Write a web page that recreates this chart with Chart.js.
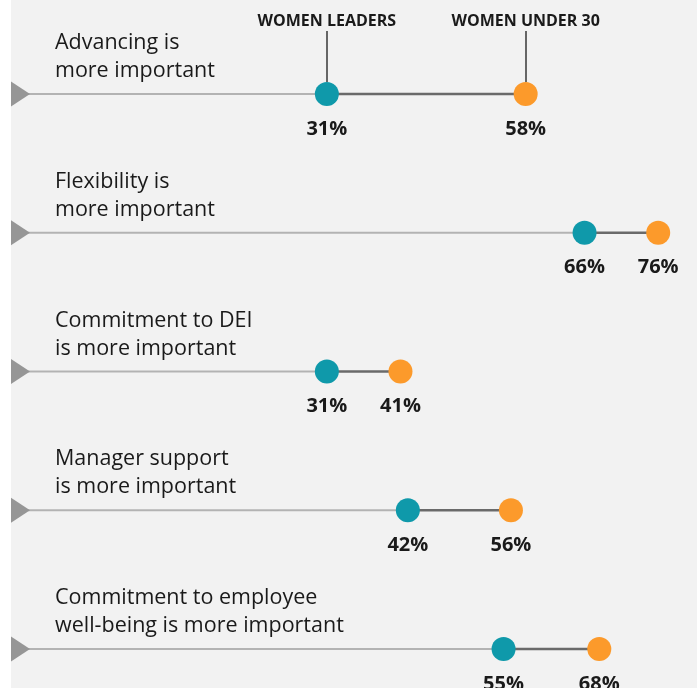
<!DOCTYPE html>
<html>
<head>
<meta charset="utf-8">
<script src="https://cdn.jsdelivr.net/npm/chart.js@4.4.1/dist/chart.umd.min.js"></script>
<style>
  html, body { margin: 0; padding: 0; background: #ffffff; }
  #wrap { position: relative; width: 697px; height: 688px; }
</style>
</head>
<body>
<div id="wrap"><canvas id="c" width="697" height="688"></canvas></div>
<script>
// ---- Data ----
const categories = [
  ["Advancing is", "more important"],
  ["Flexibility is", "more important"],
  ["Commitment to DEI", "is more important"],
  ["Manager support", "is more important"],
  ["Commitment to employee", "well-being is more important"]
];
const womenLeaders = [31, 66, 31, 42, 55];
const womenUnder30 = [58, 76, 41, 56, 68];
const seriesNames = ["WOMEN LEADERS", "WOMEN UNDER 30"];

// ---- Style ----
const TEAL = "#0f99aa";
const ORANGE = "#fc9a2b";
const FONT = "'Open Sans', 'Liberation Sans', sans-serif";

const rowIdx = categories.map((_, i) => i);

const connectorDatasets = rowIdx.map(i => ({
  type: 'line',
  data: [{x: womenLeaders[i], y: i}, {x: womenUnder30[i], y: i}],
  borderColor: '#6a6a6a',
  borderWidth: 2.5,
  pointRadius: 0,
  order: 3
}));

const plugin = {
  id: 'decor',
  beforeDraw(chart) {
    const ctx = chart.ctx;
    ctx.save();
    ctx.fillStyle = '#ffffff';
    ctx.fillRect(0, 0, chart.width, chart.height);
    ctx.fillStyle = '#f2f2f2';
    ctx.fillRect(11, 0, chart.width - 11, chart.height);
    ctx.restore();
  },
  beforeDatasetsDraw(chart) {
    const ctx = chart.ctx;
    const xs = chart.scales.x, ys = chart.scales.y;
    ctx.save();
    rowIdx.forEach(i => {
      const y = ys.getPixelForValue(i);
      const xl = xs.getPixelForValue(womenLeaders[i]);
      ctx.strokeStyle = '#b3b3b3';
      ctx.lineWidth = 2;
      ctx.beginPath();
      ctx.moveTo(28, y);
      ctx.lineTo(xl, y);
      ctx.stroke();
      ctx.fillStyle = '#969696';
      ctx.beginPath();
      ctx.moveTo(11, y - 12.5);
      ctx.lineTo(30, y);
      ctx.lineTo(11, y + 12.5);
      ctx.closePath();
      ctx.fill();
    });
    const y0 = ys.getPixelForValue(0);
    ctx.strokeStyle = '#666666';
    ctx.lineWidth = 2;
    [womenLeaders[0], womenUnder30[0]].forEach(v => {
      const x = Math.round(xs.getPixelForValue(v));
      ctx.beginPath();
      ctx.moveTo(x, 31);
      ctx.lineTo(x, y0 - 12);
      ctx.stroke();
    });
    ctx.restore();
  },
  afterDatasetsDraw(chart) {
    const ctx = chart.ctx;
    const xs = chart.scales.x, ys = chart.scales.y;
    ctx.save();
    ctx.fillStyle = '#1a1a1a';
    ctx.font = "bold 16px " + FONT;
    ctx.textAlign = 'center';
    ctx.textBaseline = 'middle';
    ctx.fillText(seriesNames[0], xs.getPixelForValue(womenLeaders[0]), 21);
    ctx.fillText(seriesNames[1], xs.getPixelForValue(womenUnder30[0]), 21);
    rowIdx.forEach(i => {
      const y = ys.getPixelForValue(i);
      ctx.font = "21.5px " + FONT;
      ctx.textAlign = 'left';
      ctx.textBaseline = 'middle';
      ctx.fillStyle = '#1a1a1a';
      ctx.fillText(categories[i][0], 55, y - 51);
      ctx.fillText(categories[i][1], 55, y - 23);
      ctx.font = "bold 20px " + FONT;
      ctx.textAlign = 'center';
      ctx.fillText(womenLeaders[i] + '%', xs.getPixelForValue(womenLeaders[i]), y + 35);
      ctx.fillText(womenUnder30[i] + '%', xs.getPixelForValue(womenUnder30[i]), y + 35);
    });
    ctx.restore();
  }
};

new Chart(document.getElementById('c'), {
  type: 'scatter',
  data: {
    datasets: [
      ...connectorDatasets,
      {
        label: seriesNames[0],
        data: rowIdx.map(i => ({x: womenLeaders[i], y: i})),
        backgroundColor: TEAL,
        borderColor: TEAL,
        borderWidth: 0,
        pointRadius: 12,
        order: 1
      },
      {
        label: seriesNames[1],
        data: rowIdx.map(i => ({x: womenUnder30[i], y: i})),
        backgroundColor: ORANGE,
        borderColor: ORANGE,
        borderWidth: 0,
        pointRadius: 12,
        order: 1
      }
    ]
  },
  options: {
    responsive: false,
    animation: false,
    layout: { padding: 0, autoPadding: false },
    plugins: { legend: { display: false }, tooltip: { enabled: false } },
    scales: {
      x: { type: 'linear', min: -13.39, max: 81.27, display: false },
      y: { type: 'linear', min: -0.677, max: 4.281, reverse: true, display: false }
    }
  },
  plugins: [plugin]
});
</script>
</body>
</html>
